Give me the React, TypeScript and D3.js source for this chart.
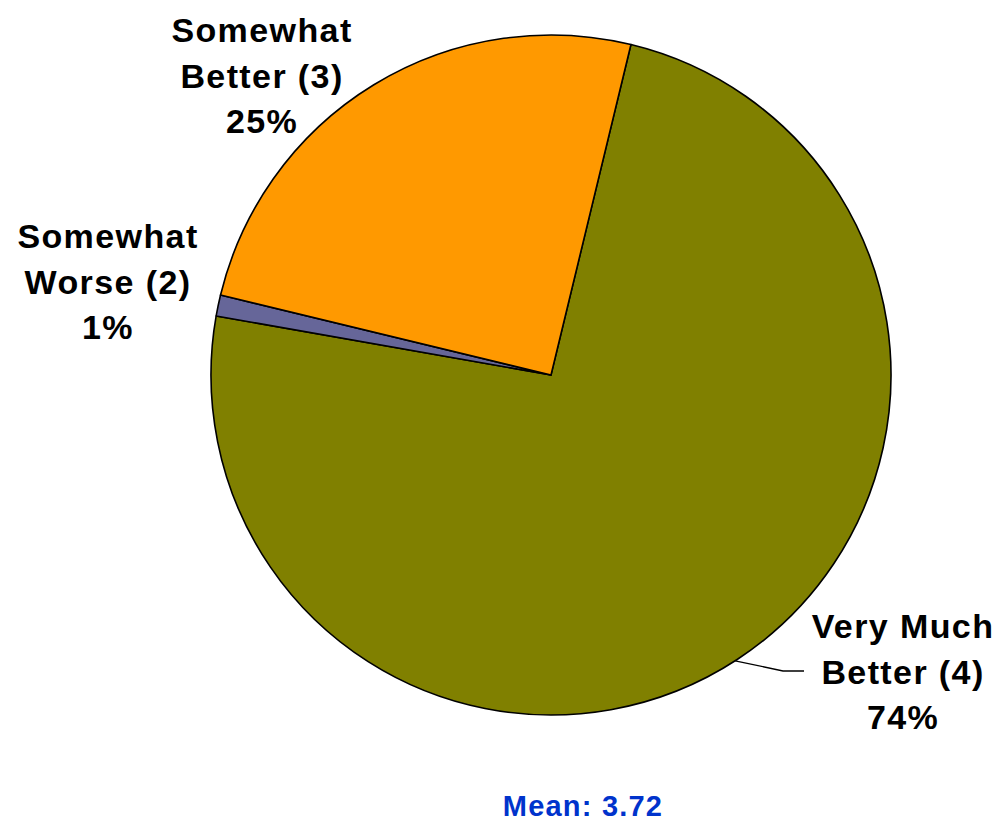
import React from "react";
import * as d3 from "d3";

const categories = ["Very Much Better (4)", "Somewhat Worse (2)", "Somewhat Better (3)"];
const values = [74, 1, 25];
const colors = ["#808000", "#666699", "#FF9900"];
const labelLines = [
  ["Very Much", "Better (4)", "74%"],
  ["Somewhat", "Worse (2)", "1%"],
  ["Somewhat", "Better (3)", "25%"],
];
const meanText = "Mean: 3.72";

const W = 1001;
const H = 821;
const cx = 551;
const cy = 375;
const R = 340;
const startDeg = 13.6;
const leaderDeg = 147.2;

// label centers (x) and first-line baselines
const labelPos = [
  { x: 903, y: 638 },
  { x: 108, y: 248 },
  { x: 262, y: 42 },
];

export default function App() {
  const pie = d3
    .pie<number>()
    .sort(null)
    .value((d) => d)
    .startAngle((startDeg * Math.PI) / 180)
    .endAngle((startDeg * Math.PI) / 180 + 2 * Math.PI);
  const arcs = pie(values);
  const arcGen = d3.arc<d3.PieArcDatum<number>>().innerRadius(0).outerRadius(R);

  const la = (leaderDeg * Math.PI) / 180;
  const lx = Math.sin(la) * R;
  const ly = -Math.cos(la) * R;

  return (
    <svg
      width={W}
      height={H}
      style={{ position: "absolute", left: 0, top: 0, display: "block", background: "#fff" }}
      fontFamily="'Liberation Sans', Arial, sans-serif"
    >
      <g transform={`translate(${cx},${cy})`}>
        {arcs.map((a, i) => (
          <path
            key={categories[i]}
            d={arcGen(a) || ""}
            fill={colors[i]}
            stroke="#000"
            strokeWidth={1.6}
            strokeLinejoin="round"
          />
        ))}
      </g>
      <polyline
        points={`${cx + lx},${cy + ly} 783,671 804,671`}
        fill="none"
        stroke="#000"
        strokeWidth={1.3}
      />
      {labelLines.map((lines, i) => (
        <text
          key={categories[i]}
          x={labelPos[i].x}
          y={labelPos[i].y}
          textAnchor="middle"
          fontSize={34}
          fontWeight="bold"
          letterSpacing={1.4}
          fill="#000"
        >
          {lines.map((ln, j) => (
            <tspan key={j} x={labelPos[i].x} y={labelPos[i].y + j * 45.5}>
              {ln}
            </tspan>
          ))}
        </text>
      ))}
      <text
        x={583}
        y={816}
        textAnchor="middle"
        fontSize={29}
        fontWeight="bold"
        letterSpacing={1.2}
        fill="#0033CC"
      >
        {meanText}
      </text>
    </svg>
  );
}
